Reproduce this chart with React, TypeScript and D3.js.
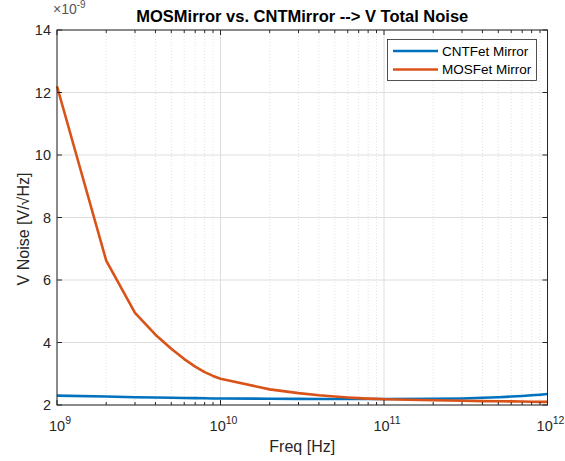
import React from "react";
import * as d3 from "d3";

const freqs = [
  1e9, 2e9, 3e9, 4e9, 5e9, 6e9, 7e9, 8e9, 9e9,
  1e10, 2e10, 3e10, 4e10, 5e10, 6e10, 7e10, 8e10, 9e10,
  1e11, 2e11, 3e11, 4e11, 5e11, 6e11, 7e11, 8e11, 9e11,
  1e12,
];
// values in units of 1e-9 V/sqrt(Hz)
const cntValues = [
  2.3, 2.27, 2.25, 2.24, 2.23, 2.225, 2.22, 2.215, 2.21,
  2.21, 2.2, 2.195, 2.19, 2.19, 2.19, 2.19, 2.19, 2.19,
  2.19, 2.2, 2.21, 2.23, 2.25, 2.27, 2.29, 2.31, 2.33,
  2.35,
];
const mosValues = [
  12.2, 6.62, 4.95, 4.25, 3.8, 3.47, 3.23, 3.05, 2.93,
  2.84, 2.5, 2.38, 2.31, 2.27, 2.24, 2.22, 2.205, 2.195,
  2.185, 2.15, 2.135, 2.125, 2.12, 2.115, 2.11, 2.105, 2.1,
  2.1,
];
const seriesNames = ["CNTFet Mirror", "MOSFet Mirror"];
const seriesColors = ["#0072BD", "#D95319"];
const yTicks = [2, 4, 6, 8, 10, 12, 14];
const xTickExps = [9, 10, 11, 12];
const titleText = "MOSMirror vs. CNTMirror --> V Total Noise";
const xLabel = "Freq [Hz]";
const yLabel = "V Noise [V/\u221AHz]";

const W = 565;
const H = 461;
const L = 57, R = 547.5, T = 30, B = 405;
const FONT = "'Liberation Sans', Arial, Helvetica, sans-serif";
const AX = "#262626";

export default function App() {
  const x = d3.scaleLog().domain([1e9, 1e12]).range([L, R]);
  const y = d3.scaleLinear().domain([2, 14]).range([B, T]);

  const minorX: number[] = [];
  for (let e = 9; e < 12; e++) {
    for (let m = 2; m <= 9; m++) minorX.push(m * Math.pow(10, e));
  }
  const majorX = xTickExps.map((e) => Math.pow(10, e));

  const line = d3
    .line<number>()
    .x((_, i) => x(freqs[i]))
    .y((d) => y(d));

  const series = [cntValues, mosValues];

  return (
    <svg
      width={W}
      height={H}
      style={{ position: "absolute", left: 0, top: 0, display: "block", background: "#fff" }}
      fontFamily={FONT}
    >
      <rect x={0} y={0} width={W} height={H} fill="#fff" />
      {/* minor grid */}
      {minorX.map((f, i) => (
        <line key={"mg" + i} x1={x(f)} x2={x(f)} y1={T} y2={B} stroke="#cfcfcf" strokeWidth={0.6} strokeDasharray="1,2" />
      ))}
      {/* major grid */}
      {majorX.map((f, i) => (
        <line key={"gx" + i} x1={x(f)} x2={x(f)} y1={T} y2={B} stroke="#dedede" strokeWidth={1} />
      ))}
      {yTicks.map((t, i) => (
        <line key={"gy" + i} x1={L} x2={R} y1={y(t)} y2={y(t)} stroke="#dedede" strokeWidth={1} />
      ))}
      {/* data */}
      {series.map((s, i) => (
        <path key={"s" + i} d={line(s) || ""} fill="none" stroke={seriesColors[i]} strokeWidth={2.6} strokeLinejoin="round" />
      ))}
      {/* box */}
      <rect x={L} y={T} width={R - L} height={B - T} fill="none" stroke={AX} strokeWidth={1} />
      {/* ticks */}
      {yTicks.map((t, i) => (
        <g key={"ty" + i}>
          <line x1={L} x2={L + 5} y1={y(t)} y2={y(t)} stroke={AX} />
          <line x1={R} x2={R - 5} y1={y(t)} y2={y(t)} stroke={AX} />
          <text x={L - 6} y={y(t)} dy="0.35em" textAnchor="end" fontSize={14.5} fill={AX}>
            {t}
          </text>
        </g>
      ))}
      {majorX.map((f, i) => (
        <g key={"tx" + i}>
          <line x1={x(f)} x2={x(f)} y1={B} y2={B - 5} stroke={AX} />
          <line x1={x(f)} x2={x(f)} y1={T} y2={T + 5} stroke={AX} />
          <text x={x(f) + 3} y={431} textAnchor="middle" fontSize={14.5} fill={AX}>
            <tspan>10</tspan>
            <tspan dy={-7} fontSize={10.5}>{xTickExps[i]}</tspan>
          </text>
        </g>
      ))}
      {minorX.map((f, i) => (
        <g key={"mt" + i}>
          <line x1={x(f)} x2={x(f)} y1={B} y2={B - 3} stroke={AX} />
          <line x1={x(f)} x2={x(f)} y1={T} y2={T + 3} stroke={AX} />
        </g>
      ))}
      {/* exponent */}
      <text x={53} y={14} fontSize={14} fill="#555">
        <tspan>{"\u00D710"}</tspan>
        <tspan dy={-6} fontSize={10}>-9</tspan>
      </text>
      {/* title */}
      <text x={(L + R) / 2} y={22} textAnchor="middle" fontSize={16.5} fontWeight="bold" fill="#000">
        {titleText}
      </text>
      {/* axis labels */}
      <text x={(L + R) / 2} y={452} textAnchor="middle" fontSize={16} fill={AX}>
        {xLabel}
      </text>
      <text
        transform={`translate(29,${229}) rotate(-90)`}
        textAnchor="middle"
        fontSize={16}
        fill={AX}
      >
        {yLabel}
      </text>
      {/* legend */}
      <rect x={387.5} y={39.5} width={149} height={41} fill="#fff" stroke={AX} strokeWidth={0.8} />
      {seriesNames.map((n, i) => (
        <g key={"lg" + i}>
          <line x1={393} x2={438} y1={51 + i * 18.5} y2={51 + i * 18.5} stroke={seriesColors[i]} strokeWidth={2.6} />
          <text x={442} y={51 + i * 18.5} dy="0.35em" fontSize={13.5} fill="#000">
            {n}
          </text>
        </g>
      ))}
    </svg>
  );
}
